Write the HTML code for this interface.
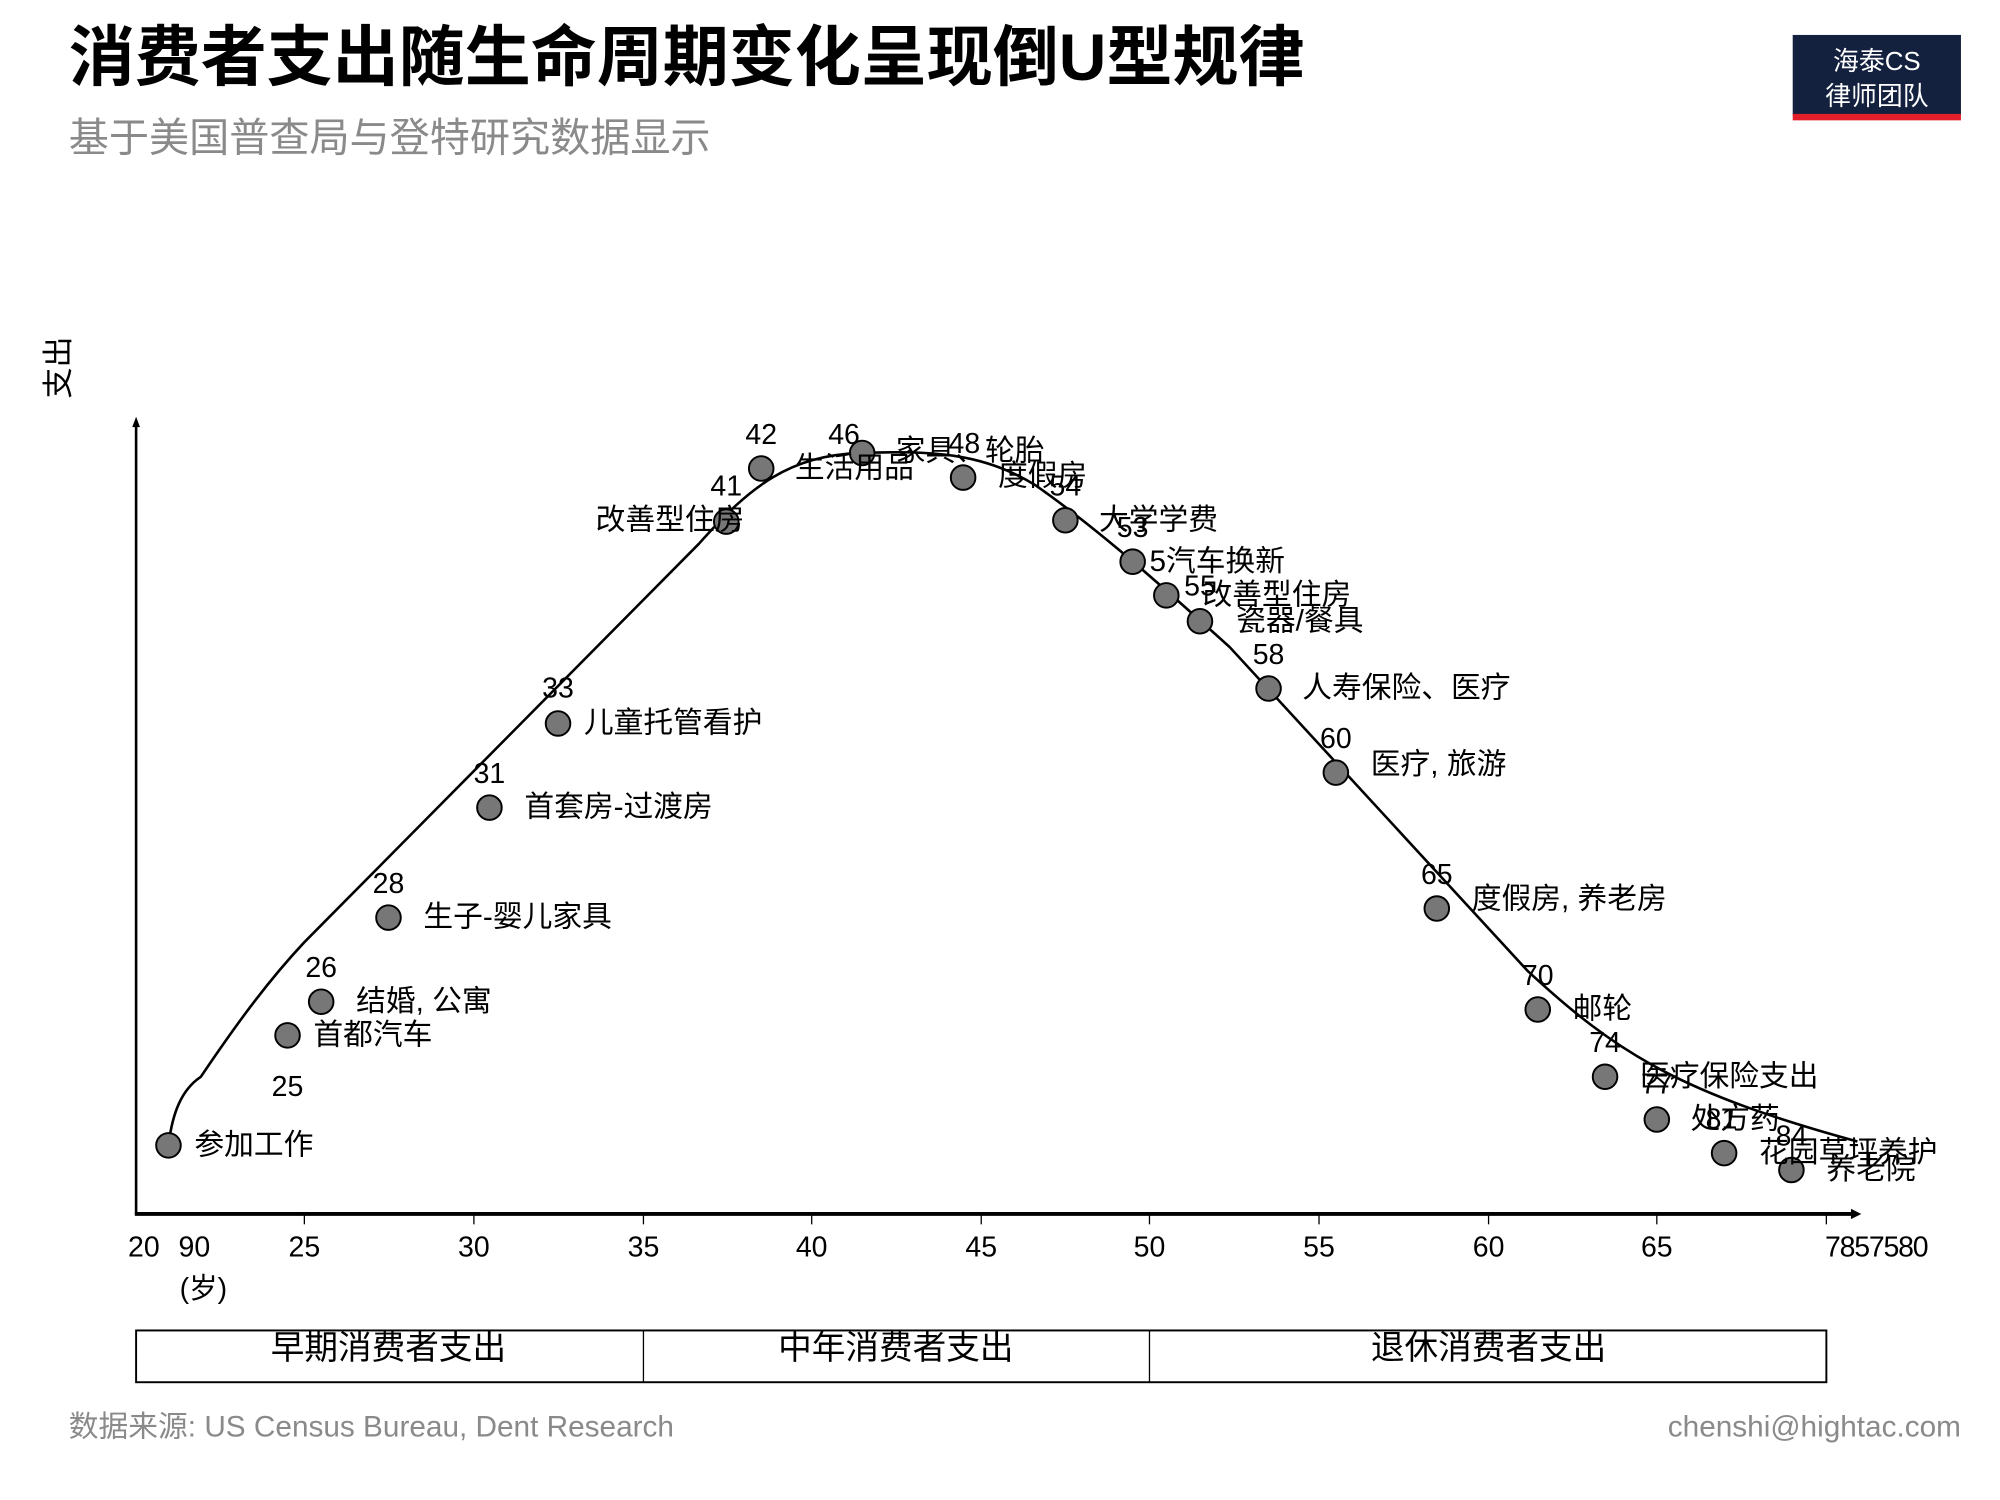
<!DOCTYPE html>
<html><head><meta charset="utf-8"><style>
html,body{margin:0;padding:0;background:#fff;}
svg{display:block;}
text{font-family:"Liberation Sans","Noto Sans CJK SC",sans-serif;}
</style></head><body>
<svg width="2000" height="1500" viewBox="0 0 1545 1159" xmlns="http://www.w3.org/2000/svg">
<text x="53" y="62" font-size="51" font-weight="bold" fill="#000">消费者支出随生命周期变化呈现倒U型规律</text>
<text x="53" y="117" font-size="31" fill="#8a8a8a">基于美国普查局与登特研究数据显示</text>
<rect x="1385" y="27" width="130" height="62" fill="#13213f"/>
<rect x="1385" y="88" width="130" height="5" fill="#e3202a"/>
<text x="1450" y="54" font-size="20" fill="#fff" text-anchor="middle">海泰CS</text>
<text x="1450" y="81" font-size="20" fill="#fff" text-anchor="middle">律师团队</text>
<text transform="translate(53,284) rotate(-90)" font-size="24" text-anchor="middle" fill="#000">支出</text>
<line x1="105" y1="938" x2="105" y2="328" stroke="#000" stroke-width="2"/>
<path d="M102,330 L105,322 L108,330Z" fill="#000"/>
<line x1="104" y1="938" x2="1432" y2="938" stroke="#000" stroke-width="3"/>
<path d="M1430,934 L1438,938 L1430,942Z" fill="#000"/>
<g stroke="#000" stroke-width="1">
<line x1="235" y1="938" x2="235" y2="946"/><line x1="366" y1="938" x2="366" y2="946"/><line x1="497" y1="938" x2="497" y2="946"/><line x1="627" y1="938" x2="627" y2="946"/><line x1="758" y1="938" x2="758" y2="946"/><line x1="888" y1="938" x2="888" y2="946"/><line x1="1019" y1="938" x2="1019" y2="946"/><line x1="1150" y1="938" x2="1150" y2="946"/><line x1="1280" y1="938" x2="1280" y2="946"/><line x1="1411" y1="938" x2="1411" y2="946"/>
</g>
<g font-size="22" text-anchor="middle" fill="#000">
<text x="111" y="971">20</text><text x="150" y="971">90</text><text x="235" y="971">25</text><text x="366" y="971">30</text><text x="497" y="971">35</text><text x="627" y="971">40</text><text x="758" y="971">45</text><text x="888" y="971">50</text><text x="1019" y="971">55</text><text x="1150" y="971">60</text><text x="1280" y="971">65</text><text x="1450" y="971" textLength="80">7857580</text>
<text x="157" y="1003">(岁)</text>
</g>
<path d="M130,885 C133,860 140,842 155,832 C180,795 205,760 235,728 L540,420 C580,375 610,352 665,350 C720,348 760,350 800,375 C850,410 900,455 950,500 L1180,750 C1250,815 1300,845 1435,882" fill="none" stroke="#000" stroke-width="2"/>
<g fill="#777" stroke="#000" stroke-width="1.5">
<circle cx="130" cy="885" r="9.5"/><circle cx="222" cy="800" r="9.5"/><circle cx="248" cy="774" r="9.5"/><circle cx="300" cy="709" r="9.5"/><circle cx="378" cy="624" r="9.5"/><circle cx="431" cy="559" r="9.5"/><circle cx="561" cy="403" r="9.5"/><circle cx="588" cy="362" r="9.5"/><circle cx="666" cy="350" r="9.5"/><circle cx="744" cy="369" r="9.5"/><circle cx="823" cy="402" r="9.5"/><circle cx="875" cy="434" r="9.5"/><circle cx="901" cy="460" r="9.5"/><circle cx="927" cy="480" r="9.5"/><circle cx="980" cy="532" r="9.5"/><circle cx="1032" cy="597" r="9.5"/><circle cx="1110" cy="702" r="9.5"/><circle cx="1188" cy="780" r="9.5"/><circle cx="1240" cy="832" r="9.5"/><circle cx="1280" cy="865" r="9.5"/><circle cx="1332" cy="891" r="9.5"/><circle cx="1384" cy="904" r="9.5"/>
</g>
<g font-size="22" fill="#000" text-anchor="middle">
<text x="222" y="847">25</text><text x="248" y="755">26</text><text x="300" y="690">28</text><text x="378" y="605">31</text><text x="431" y="539">33</text><text x="561" y="383">41</text><text x="588" y="343">42</text><text x="652" y="343">46</text><text x="745" y="350">48</text><text x="823" y="383">54</text><text x="875" y="415">53</text><text x="927" y="460">55</text><text x="980" y="513">58</text><text x="1032" y="578">60</text><text x="1110" y="683">65</text><text x="1188" y="761">70</text><text x="1240" y="813">74</text><text x="1280" y="845">77</text><text x="1330" y="872">81</text><text x="1384" y="885">84</text>
</g>
<g font-size="23" fill="#000">
<text x="150" y="892">参加工作</text><text x="242" y="807">首都汽车</text><text x="275" y="781">结婚, 公寓</text><text x="327" y="716">生子-婴儿家具</text><text x="405" y="631">首套房-过渡房</text><text x="451" y="566">儿童托管看护</text>
<text x="575" y="409" text-anchor="end">改善型住房</text><text x="614" y="369">生活用品</text><text x="692" y="356">家具、轮胎</text><text x="771" y="375">度假房</text><text x="849" y="409">大学学费</text><text x="888" y="441">5汽车换新</text><text x="929" y="467">改善型住房</text><text x="955" y="487">瓷器/餐具</text><text x="1006" y="539">人寿保险、医疗</text><text x="1059" y="598">医疗, 旅游</text><text x="1137" y="702">度假房, 养老房</text><text x="1215" y="787">邮轮</text><text x="1267" y="839">医疗保险支出</text><text x="1306" y="872">处方药</text><text x="1359" y="898">花园草坪养护</text><text x="1411" y="911">养老院</text>
</g>
<rect x="105" y="1028" width="1306" height="40" fill="none" stroke="#000" stroke-width="1.5"/>
<line x1="497" y1="1028" x2="497" y2="1068" stroke="#000"/><line x1="888" y1="1028" x2="888" y2="1068" stroke="#000"/>
<g font-size="26" fill="#000" text-anchor="middle">
<text x="300" y="1050">早期消费者支出</text><text x="692" y="1050">中年消费者支出</text><text x="1150" y="1050">退休消费者支出</text>
</g>
<text x="53" y="1110" font-size="23" fill="#8a8a8a">数据来源: US Census Bureau, Dent Research</text>
<text x="1515" y="1110" font-size="23" fill="#8a8a8a" text-anchor="end">chenshi@hightac.com</text>
</svg>
</body></html>
